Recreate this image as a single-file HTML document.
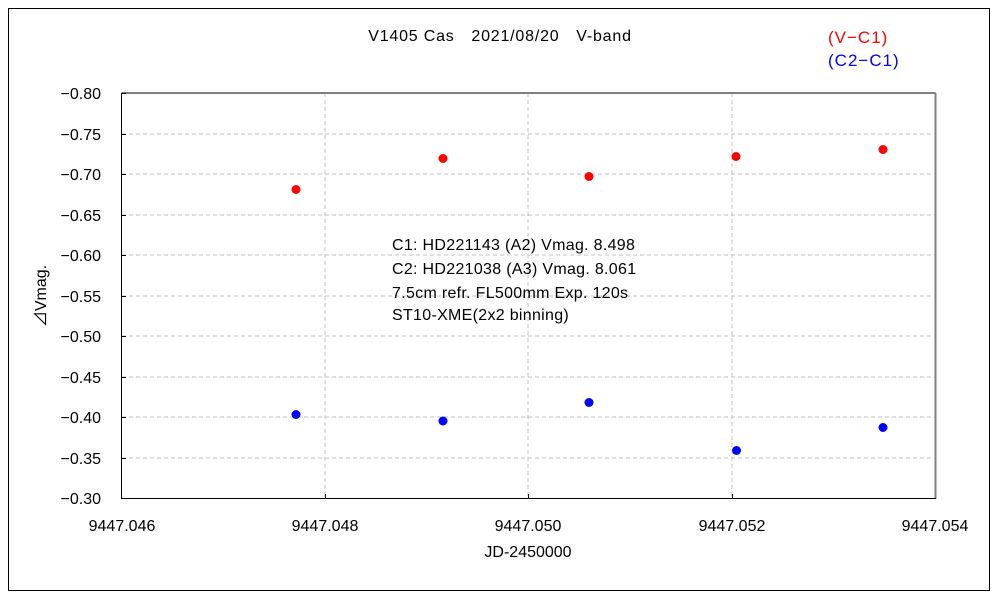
<!DOCTYPE html>
<html><head><style>body{margin:0;background:#fff}svg{display:block;font-family:"Liberation Sans","Noto Sans CJK JP",sans-serif;font-size:15px}</style></head><body>
<svg width="1000" height="600" viewBox="0 0 1000 600">
<rect x="8.5" y="8.5" width="981" height="582" fill="#fff" stroke="#000" stroke-width="1"/>
<g stroke="#c0c0c0" stroke-dasharray="4,3" stroke-width="1">
<line x1="122" y1="134" x2="935" y2="134"/><line x1="122" y1="174" x2="935" y2="174"/><line x1="122" y1="215" x2="935" y2="215"/><line x1="122" y1="255" x2="935" y2="255"/><line x1="122" y1="296" x2="935" y2="296"/><line x1="122" y1="336" x2="935" y2="336"/><line x1="122" y1="377" x2="935" y2="377"/><line x1="122" y1="417" x2="935" y2="417"/><line x1="122" y1="458" x2="935" y2="458"/>
<line x1="325" y1="93" x2="325" y2="498"/><line x1="528" y1="93" x2="528" y2="498"/><line x1="732" y1="93" x2="732" y2="498"/>
</g>
<line x1="121.5" y1="93" x2="935.5" y2="93" stroke="#808080" stroke-width="2"/>
<line x1="935.5" y1="93" x2="935.5" y2="499" stroke="#808080" stroke-width="2"/>
<line x1="121.5" y1="93" x2="121.5" y2="499" stroke="#000" stroke-width="1"/>
<line x1="121" y1="498.5" x2="936" y2="498.5" stroke="#000" stroke-width="1"/>
<g stroke="#000"><line x1="122" y1="93.5" x2="126" y2="93.5"/><line x1="122" y1="134.5" x2="126" y2="134.5"/><line x1="122" y1="174.5" x2="126" y2="174.5"/><line x1="122" y1="215.5" x2="126" y2="215.5"/><line x1="122" y1="255.5" x2="126" y2="255.5"/><line x1="122" y1="296.5" x2="126" y2="296.5"/><line x1="122" y1="336.5" x2="126" y2="336.5"/><line x1="122" y1="377.5" x2="126" y2="377.5"/><line x1="122" y1="417.5" x2="126" y2="417.5"/><line x1="122" y1="458.5" x2="126" y2="458.5"/>
<line x1="325.5" y1="494" x2="325.5" y2="498"/><line x1="528.5" y1="494" x2="528.5" y2="498"/><line x1="732.5" y1="494" x2="732.5" y2="498"/></g>
<g text-anchor="end" font-size="16"><text x="101" y="99">−0.80</text><text x="101" y="140">−0.75</text><text x="101" y="180">−0.70</text><text x="101" y="221">−0.65</text><text x="101" y="261">−0.60</text><text x="101" y="302">−0.55</text><text x="101" y="342">−0.50</text><text x="101" y="383">−0.45</text><text x="101" y="423">−0.40</text><text x="101" y="464">−0.35</text><text x="101" y="504">−0.30</text></g>
<g text-anchor="middle" font-size="16"><text x="122" y="531">9447.046</text><text x="325" y="531">9447.048</text><text x="528" y="531">9447.050</text><text x="732" y="531">9447.052</text><text x="935" y="531">9447.054</text>
<text x="528" y="557">JD-2450000</text><text x="500" y="41" letter-spacing="0.8">V1405 Cas　2021/08/20　V-band</text></g>
<text transform="translate(46,296) rotate(-90)" text-anchor="middle" font-size="16">⊿Vmag.</text>
<text x="828" y="43" fill="#f00" font-size="17" letter-spacing="1">(V−C1)</text>
<text x="828" y="66" fill="#00f" font-size="17" letter-spacing="1">(C2−C1)</text>
<g font-size="16" letter-spacing="0.3"><text x="392" y="250">C1: HD221143 (A2) Vmag. 8.498</text>
<text x="392" y="274">C2: HD221038 (A3) Vmag. 8.061</text>
<text x="392" y="298">7.5cm refr. FL500mm Exp. 120s</text>
<text x="392" y="320">ST10-XME(2x2 binning)</text></g>
<g fill="#f00"><circle cx="296" cy="189.5" r="4.5"/><circle cx="443" cy="158.5" r="4.5"/><circle cx="589" cy="176.5" r="4.5"/><circle cx="736" cy="156.5" r="4.5"/><circle cx="883" cy="149.5" r="4.5"/></g>
<g fill="#00f"><circle cx="296" cy="414.5" r="4.5"/><circle cx="443" cy="421" r="4.5"/><circle cx="589" cy="402.5" r="4.5"/><circle cx="736.5" cy="450.5" r="4.5"/><circle cx="883" cy="427.5" r="4.5"/></g>
</svg>
</body></html>
